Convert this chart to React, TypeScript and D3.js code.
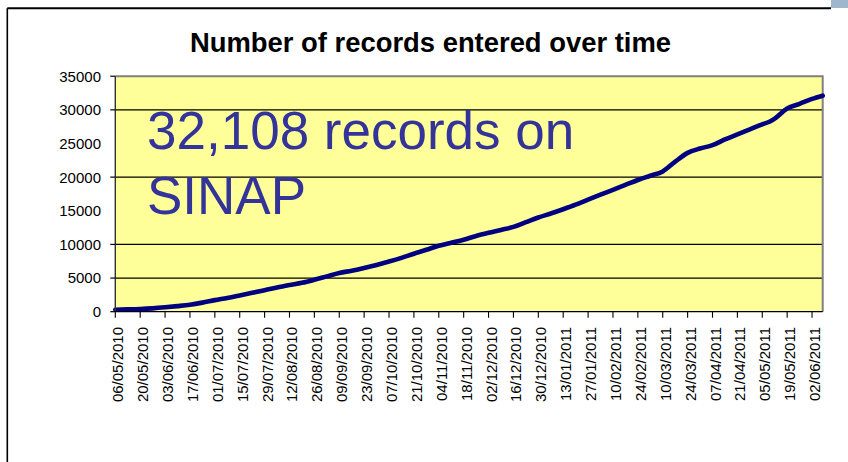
import React from "react";
import * as d3 from "d3";

const title = "Number of records entered over time";
const annotationLines = ["32,108 records on", "SINAP"];

const dates: string[] = [
  "2010-05-06", "2010-05-13", "2010-05-20", "2010-05-27", "2010-06-03", "2010-06-10",
  "2010-06-17", "2010-06-24", "2010-07-01", "2010-07-08", "2010-07-15", "2010-07-22",
  "2010-07-29", "2010-08-05", "2010-08-12", "2010-08-19", "2010-08-26", "2010-09-02",
  "2010-09-09", "2010-09-16", "2010-09-23", "2010-09-30", "2010-10-07", "2010-10-14",
  "2010-10-21", "2010-10-28", "2010-11-04", "2010-11-11", "2010-11-18", "2010-11-25",
  "2010-12-02", "2010-12-09", "2010-12-16", "2010-12-23", "2010-12-30", "2011-01-06",
  "2011-01-13", "2011-01-20", "2011-01-27", "2011-02-03", "2011-02-10", "2011-02-17",
  "2011-02-24", "2011-03-03", "2011-03-10", "2011-03-17", "2011-03-24", "2011-03-31",
  "2011-04-07", "2011-04-14", "2011-04-21", "2011-04-28", "2011-05-05", "2011-05-09",
  "2011-05-12", "2011-05-19", "2011-05-26", "2011-06-02", "2011-06-08",
];

const records: number[] = [
  300, 340, 400, 500, 650, 830,
  1040, 1350, 1720, 2050, 2420, 2800,
  3200, 3600, 3960, 4300, 4750, 5250,
  5750, 6100, 6500, 6950, 7450, 8000,
  8620, 9200, 9800, 10250, 10700, 11250,
  11720, 12150, 12600, 13300, 14000, 14600,
  15230, 15900, 16650, 17400, 18120, 18850,
  19570, 20200, 20850, 22300, 23600, 24250,
  24750, 25600, 26350, 27100, 27850, 28230,
  28700, 30200, 30900, 31620, 32108,
];

const tickLabels: string[] = [
  "06/05/2010", "20/05/2010", "03/06/2010", "17/06/2010", "01/07/2010", "15/07/2010",
  "29/07/2010", "12/08/2010", "26/08/2010", "09/09/2010", "23/09/2010", "07/10/2010",
  "21/10/2010", "04/11/2010", "18/11/2010", "02/12/2010", "16/12/2010", "30/12/2010",
  "13/01/2011", "27/01/2011", "10/02/2011", "24/02/2011", "10/03/2011", "24/03/2011",
  "07/04/2011", "21/04/2011", "05/05/2011", "19/05/2011", "02/06/2011",
];

const yTicks: number[] = [0, 5000, 10000, 15000, 20000, 25000, 30000, 35000];
// gridlines / tick marks that are visible in the reference
const yGridVisible: number[] = [0, 5000, 10000, 20000, 30000, 35000];

const W = 848;
const H = 462;
const plot = { left: 115.3, right: 822.7, top: 76.2, bottom: 311.7 };
const font = "'Liberation Sans', Arial, Helvetica, sans-serif";

export default function App() {
  const parse = d3.timeParse("%Y-%m-%d");
  const parseTick = d3.timeParse("%d/%m/%Y");
  const data = dates.map((d, i) => ({ date: parse(d) as Date, value: records[i] }));

  const x = d3
    .scaleTime()
    .domain([data[0].date, data[data.length - 1].date])
    .range([plot.left, plot.right]);
  const y = d3.scaleLinear().domain([0, 35000]).range([plot.bottom, plot.top]);

  const line = d3
    .line<{ date: Date; value: number }>()
    .x((d) => x(d.date))
    .y((d) => y(d.value))
    .curve(d3.curveMonotoneX);

  const ticks = tickLabels.map((t) => ({ label: t, date: parseTick(t) as Date }));

  return (
    <svg
      width={W}
      height={H}
      viewBox={`0 0 ${W} ${H}`}
      style={{ position: "absolute", left: 0, top: 0, background: "#fff" }}
    >
      {/* outer frame */}
      <line x1={7.3} y1={8.3} x2={831} y2={8.3} stroke="#000" strokeWidth={2} />
      <line x1={7.3} y1={8.3} x2={7.3} y2={H} stroke="#000" strokeWidth={1.6} />
      <rect x={831} y={0} width={17} height={8} fill="#9FB6CD" />

      {/* title */}
      <text
        x={430.5}
        y={51.7}
        textAnchor="middle"
        fontFamily={font}
        fontWeight="bold"
        fontSize={27.4}
        fill="#000"
      >
        {title}
      </text>

      {/* plot area */}
      <rect
        x={plot.left}
        y={plot.top}
        width={plot.right - plot.left}
        height={plot.bottom - plot.top}
        fill="#FFFF99"
      />
      {yGridVisible
        .filter((v) => v > 0 && v < 35000)
        .map((v) => (
          <line
            key={"g" + v}
            x1={plot.left}
            x2={plot.right}
            y1={y(v)}
            y2={y(v)}
            stroke="#000"
            strokeWidth={1.2}
          />
        ))}
      {/* plot border top/right */}
      <path
        d={`M${plot.left},${plot.top}H${plot.right}V${plot.bottom}`}
        fill="none"
        stroke="#808080"
        strokeWidth={2}
      />

      {/* annotation */}
      {annotationLines.map((t, i) => (
        <text
          key={t}
          x={147}
          y={149.3 + i * 64.7}
          fontFamily={font}
          fontSize={53}
          fill="#333399"
        >
          {t}
        </text>
      ))}

      {/* data line */}
      <path
        d={line(data) || ""}
        fill="none"
        stroke="#000080"
        strokeWidth={4.6}
        strokeLinejoin="round"
        strokeLinecap="round"
      />

      {/* y axis */}
      <line x1={plot.left} x2={plot.left} y1={plot.top} y2={plot.bottom} stroke="#333" strokeWidth={1.4} />
      {yGridVisible.map((v) => (
        <line
          key={"yt" + v}
          x1={plot.left - 5}
          x2={plot.left}
          y1={y(v)}
          y2={y(v)}
          stroke="#000"
          strokeWidth={1.2}
        />
      ))}
      {yTicks.map((v) => (
        <text
          key={"y" + v}
          x={101}
          y={y(v) + 5.4}
          textAnchor="end"
          fontFamily={font}
          fontSize={15}
          fill="#000"
        >
          {v}
        </text>
      ))}

      {/* x axis */}
      <line x1={plot.left} x2={plot.right} y1={plot.bottom} y2={plot.bottom} stroke="#000" strokeWidth={1.3} />
      {ticks.map((t) => {
        const tx = x(t.date);
        return (
          <g key={t.label}>
            <line x1={tx} x2={tx} y1={plot.bottom} y2={plot.bottom + 6} stroke="#000" strokeWidth={1.1} />
            <text
              transform={`translate(${tx},327) rotate(-90)`}
              dy={8}
              textAnchor="end"
              fontFamily={font}
              fontSize={15}
              fill="#000"
            >
              {t.label}
            </text>
          </g>
        );
      })}
    </svg>
  );
}
